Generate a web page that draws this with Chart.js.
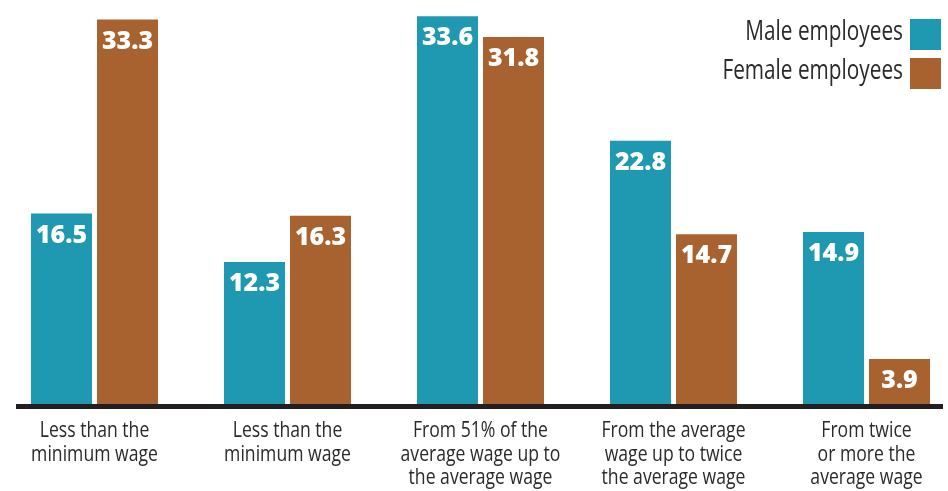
<!DOCTYPE html>
<html>
<head>
<meta charset="utf-8">
<script src="https://cdn.jsdelivr.net/npm/chart.js@4"></script>
<style>
  html, body { margin: 0; padding: 0; background: #fff; }
  #wrap { width: 948px; height: 491px; overflow: hidden; position: relative; }
  #myChart { position: absolute; left: -2px; top: 0; }
</style>
</head>
<body>
<div id="wrap"><canvas id="myChart" width="965" height="491"></canvas></div>
<script>
/* globals Chart:false */
/* globals document:false */

// Wage brackets (multi-line tick labels)
var categories = [
  ['Less than the', 'minimum wage'],
  ['Less than the', 'minimum wage'],
  ['From 51% of the', 'average wage up to', 'the average wage'],
  ['From the average', 'wage up to twice', 'the average wage'],
  ['From twice', 'or more the', 'average wage']
];
var maleValues = [16.5, 12.3, 33.6, 22.8, 14.9];
var femaleValues = [33.3, 16.3, 31.8, 14.7, 3.9];
var seriesNames = ['Male employees', 'Female employees'];
var seriesColors = ['#1f98b2', '#a8622f'];

var textFont = "'Open Sans', 'Noto Sans', sans-serif";
var textColor = '#2b2a2b';
var shift = 2;       // canvas sits 2px left of the page edge
var viewWidth = 948;

// draw one line of text squeezed horizontally around x
function narrowText(ctx, str, x, y, squeeze) {
  ctx.save();
  ctx.translate(x, y);
  ctx.scale(squeeze, 1);
  ctx.fillText(str, 0, 0);
  ctx.restore();
}

// Thick baseline under the bars
var baseline = {
  id: 'baseline',
  afterDatasetsDraw: function(chart) {
    var ctx = chart.ctx;
    ctx.save();
    ctx.fillStyle = '#231f20';
    ctx.fillRect(shift + 16, chart.chartArea.bottom, viewWidth - 21, 5);
    ctx.restore();
  }
};

// Category labels under the baseline
var catLabels = {
  id: 'catLabels',
  afterDraw: function(chart) {
    var ctx = chart.ctx;
    var xs = chart.scales.x;
    ctx.save();
    ctx.font = '22px ' + textFont;
    ctx.fillStyle = textColor;
    ctx.textAlign = 'center';
    ctx.textBaseline = 'alphabetic';
    chart.data.labels.forEach(function(lines, i) {
      var x = xs.getPixelForTick(i);
      lines.forEach(function(line, k) {
        narrowText(ctx, line, x, chart.chartArea.bottom + 33 + k * 23.5, 0.8);
      });
    });
    ctx.restore();
  }
};

// White value printed inside the top of each bar
var barValues = {
  id: 'barValues',
  afterDatasetsDraw: function(chart) {
    var ctx = chart.ctx;
    ctx.save();
    ctx.font = "800 25px 'Open Sans', 'Noto Sans', sans-serif";
    ctx.fillStyle = '#ffffff';
    ctx.textAlign = 'center';
    ctx.textBaseline = 'middle';
    chart.data.datasets.forEach(function(ds, i) {
      chart.getDatasetMeta(i).data.forEach(function(bar, j) {
        var h = bar.base - bar.y;
        var off = Math.min(22, h / 2);
        ctx.fillText(ds.data[j].toFixed(1), bar.x, bar.y + off);
      });
    });
    ctx.restore();
  }
};

// Legend in the top right corner, swatch to the right of the text
var sideLegend = {
  id: 'sideLegend',
  afterDraw: function(chart) {
    var ctx = chart.ctx;
    var box = 31;
    ctx.save();
    ctx.font = '27px ' + textFont;
    ctx.textAlign = 'right';
    ctx.textBaseline = 'alphabetic';
    chart.data.datasets.forEach(function(ds, i) {
      var top = 19 + i * 39;
      var bx = shift + viewWidth - 7 - box;
      ctx.fillStyle = ds.backgroundColor;
      ctx.fillRect(bx, top, box, box);
      ctx.fillStyle = textColor;
      narrowText(ctx, ds.label, bx - 7, top + 21, 0.77);
    });
    ctx.restore();
  }
};

var ctx = document.getElementById('myChart').getContext('2d');

var myChart = new Chart(ctx, {
  type: 'bar',
  data: {
    labels: categories,
    datasets: [{
      label: seriesNames[0],
      data: maleValues,
      backgroundColor: seriesColors[0]
    }, {
      label: seriesNames[1],
      data: femaleValues,
      backgroundColor: seriesColors[1]
    }]
  },
  options: {
    responsive: false,
    animation: false,
    categoryPercentage: 0.684,
    barPercentage: 0.924,
    layout: { padding: 0 },
    plugins: {
      legend: { display: false },
      tooltip: { enabled: false }
    },
    scales: {
      x: {
        grid: { display: false, drawTicks: false },
        border: { display: false },
        ticks: { display: false },
        afterFit: function(scale) {
          scale.height = 87;
        }
      },
      y: {
        display: false,
        min: 0,
        max: 35
      }
    }
  },
  plugins: [baseline, barValues, catLabels, sideLegend]
});
</script>
</body>
</html>
